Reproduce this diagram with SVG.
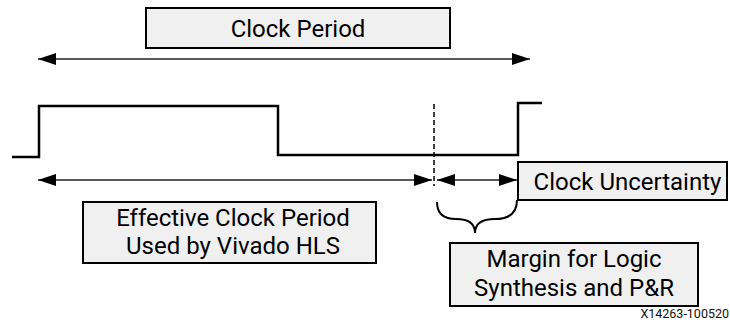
<svg xmlns="http://www.w3.org/2000/svg" width="730" height="324" viewBox="0 0 730 324">
<style>
.box{fill:#f0f0f0;stroke:#000;stroke-width:2}
.lbl{font-family:Roboto,"Liberation Sans",sans-serif;font-size:24px;fill:#000;text-anchor:middle}
.arr{stroke:#222;stroke-width:1.3;fill:none}
.wave{stroke:#000;stroke-width:2.5;fill:none}
</style>
<defs>
<marker id="ah" markerUnits="userSpaceOnUse" markerWidth="18" markerHeight="12" refX="18" refY="6" orient="auto-start-reverse">
<path d="M0,0 L18,6 L0,12 Z" fill="#000"/>
</marker>
</defs>
<rect width="730" height="324" fill="#fff"/>
<g id="waveform">
<path class="wave" d="M12,157 H39 V106 H278 V155 H518 V103 H542"/>
</g>
<g id="connectors">
<line class="arr" x1="38" y1="59" x2="530" y2="59" marker-start="url(#ah)" marker-end="url(#ah)"/>
<line class="arr" x1="38" y1="180" x2="432" y2="180" marker-start="url(#ah)" marker-end="url(#ah)"/>
<line class="arr" x1="437" y1="180" x2="517" y2="180" marker-start="url(#ah)" marker-end="url(#ah)"/>
<line x1="434" y1="104" x2="434" y2="186" stroke="#000" stroke-width="1.5" stroke-dasharray="5,3"/>
<path d="M437,202 Q437,219 456,219 Q475,219 475,233 Q475,219 495,219 Q517,219 517,200" fill="none" stroke="#000" stroke-width="2"/>
</g>
<g id="clock-period">
<rect class="box" x="146" y="8" width="304" height="40"/>
<text class="lbl" x="298" y="37" font-size="25">Clock Period</text>
</g>
<g id="effective-clock-period">
<rect class="box" x="83" y="202" width="293" height="61"/>
<text class="lbl" x="233" y="226">Effective Clock Period</text>
<text class="lbl" x="233" y="254">Used by Vivado HLS</text>
</g>
<g id="clock-uncertainty">
<rect class="box" x="518" y="162" width="209" height="38"/>
<text class="lbl" x="627.5" y="190">Clock Uncertainty</text>
</g>
<g id="margin">
<rect class="box" x="450" y="243" width="248" height="63"/>
<text class="lbl" x="574" y="267">Margin for Logic</text>
<text class="lbl" x="574" y="296">Synthesis and P&amp;R</text>
</g>
<text x="729" y="318" font-family="Roboto,'Liberation Sans',sans-serif" font-size="12.5" text-anchor="end" fill="#111">X14263-100520</text>
</svg>
